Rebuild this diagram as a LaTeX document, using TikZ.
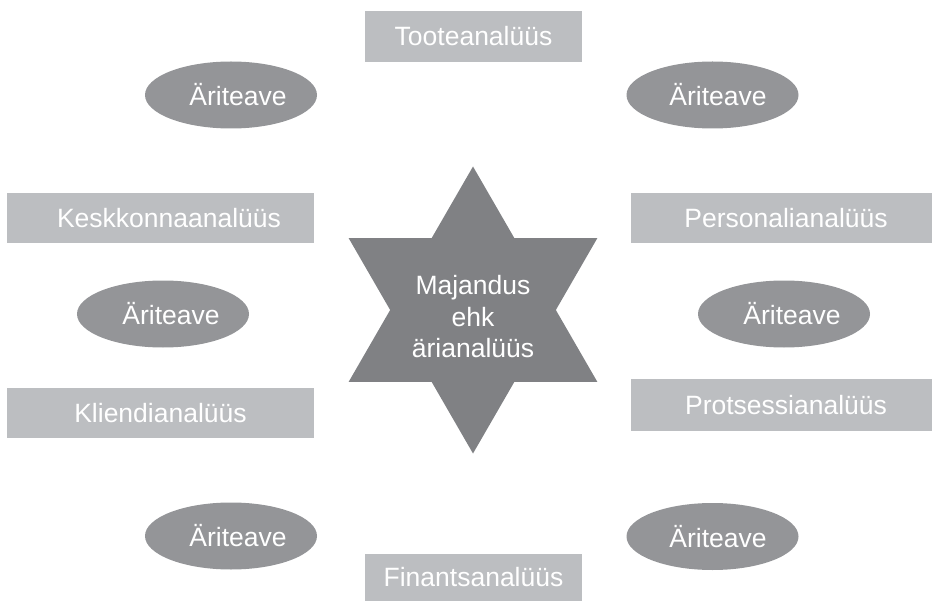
\documentclass[tikz,border=0pt]{standalone}
\usepackage{fontspec}
\setmainfont{Liberation Sans}
\usetikzlibrary{shapes.geometric}
\definecolor{stargray}{RGB}{128,129,132}
\definecolor{ellgray}{RGB}{148,149,152}
\definecolor{boxgray}{RGB}{188,190,193}
\tikzset{
  txt/.style={text=white,font=\fontsize{26.5bp}{31.5bp}\selectfont},
  anbox/.style={txt,rectangle,fill=boxgray,inner sep=0pt,minimum height=50bp},
  info/.style={txt,ellipse,fill=ellgray,inner sep=0pt,minimum width=172bp,minimum height=67bp},
  starlabel/.style={txt,align=center,inner sep=0pt}
}
\begin{document}
\begin{tikzpicture}[x=1bp,y=-1bp]
\useasboundingbox (0,0) rectangle (932,601);
% star
\fill[stargray] (473,310) +(90:143.5) -- +(120:82.85) -- +(150:143.5) -- +(180:82.85)
  -- +(210:143.5) -- +(240:82.85) -- +(270:143.5) -- +(300:82.85) -- +(330:143.5)
  -- +(0:82.85) -- +(30:143.5) -- +(60:82.85) -- cycle;
\node[starlabel] (center) at (473,317) {Majandus\\ehk\\ärianalüüs};
% boxes
\node[anbox,minimum width=217bp,minimum height=51bp] (toote) at (473.5,36.5) {Tooteanalüüs};
\node[anbox,minimum width=217bp,minimum height=47bp] (finants) at (473.5,577.5) {Finantsanalüüs};
\node[anbox,minimum width=307bp] (keskkond) at (160.5,218) {\hspace*{17bp}Keskkonnaanalüüs};
\node[anbox,minimum width=307bp] (klient) at (160.5,413) {Kliendianalüüs};
\node[anbox,minimum width=301bp] (personal) at (781.5,218) {\hspace*{9bp}Personalianalüüs};
\node[anbox,minimum width=301bp,minimum height=52bp] (protsess) at (781.5,405) {\hspace*{9bp}Protsessianalüüs};
% ellipses
\node[info] (e1) at (231,95) {\hspace*{14bp}Äriteave};
\node[info] (e2) at (712.5,95) {\hspace*{11bp}Äriteave};
\node[info] (e3) at (163,314) {\hspace*{16bp}Äriteave};
\node[info] (e4) at (784,314) {\hspace*{16bp}Äriteave};
\node[info] (e5) at (231,536) {\hspace*{14bp}Äriteave};
\node[info] (e6) at (712.5,536.5) {\hspace*{11bp}Äriteave};
\end{tikzpicture}
\end{document}
